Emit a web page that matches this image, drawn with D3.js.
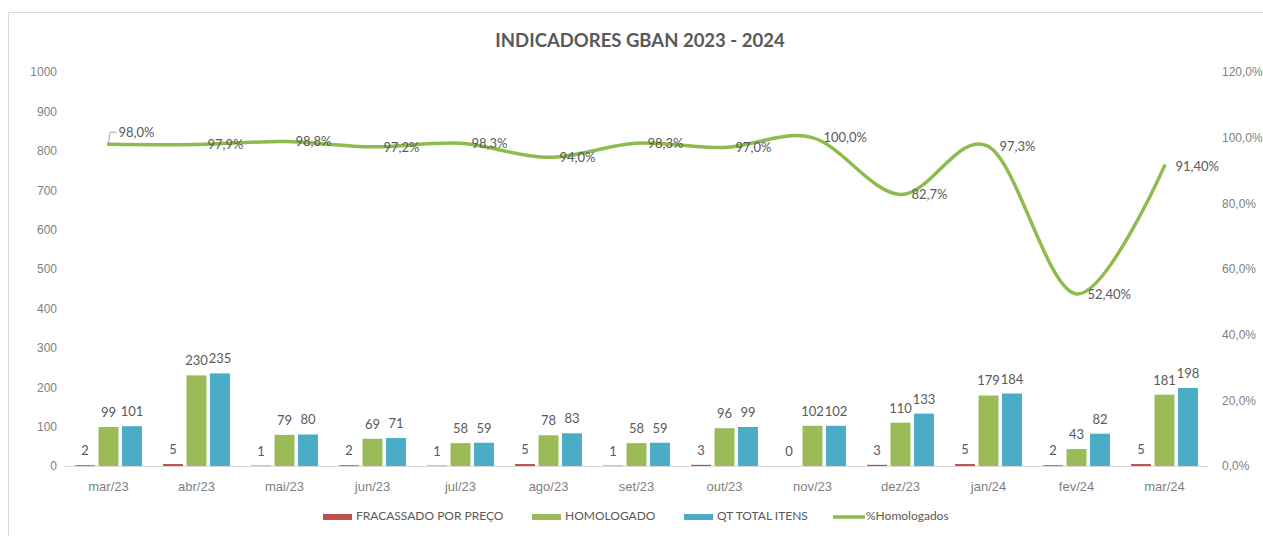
<!DOCTYPE html>
<html lang="pt">
<head>
    <meta charset="UTF-8">
    <title>INDICADORES GBAN 2023 - 2024</title>
    <style>
        body {
            margin: 0;
            background: #fff;
            font-family: Lato, "Open Sans", Arial, sans-serif;
        }
        .tick text {
            fill: #7f7f7f;
            font-size: 12px;
        }
        .lbl {
            fill: #595959;
            font-size: 13px;
        }
    </style>
</head>
<body>
    <div id="chart"></div>

    <script src="https://d3js.org/d3.v7.min.js"></script>
    <script>
        var months = ["mar/23", "abr/23", "mai/23", "jun/23", "jul/23", "ago/23", "set/23",
                      "out/23", "nov/23", "dez/23", "jan/24", "fev/24", "mar/24"];
        var fracassado = [2, 5, 1, 2, 1, 5, 1, 3, 0, 3, 5, 2, 5];
        var homologado = [99, 230, 79, 69, 58, 78, 58, 96, 102, 110, 179, 43, 181];
        var qtTotal = [101, 235, 80, 71, 59, 83, 59, 99, 102, 133, 184, 82, 198];
        var pctHomologados = [98.0, 97.9, 98.8, 97.2, 98.3, 94.0, 98.3, 97.0, 100.0, 82.7, 97.3, 52.4, 91.4];
        var pctLabels = ["98,0%", "97,9%", "98,8%", "97,2%", "98,3%", "94,0%", "98,3%",
                         "97,0%", "100,0%", "82,7%", "97,3%", "52,40%", "91,40%"];
        var leftTicks = [0, 100, 200, 300, 400, 500, 600, 700, 800, 900, 1000];
        var rightTicks = [0, 20, 40, 60, 80, 100, 120];
        var seriesNames = ["FRACASSADO POR PREÇO", "HOMOLOGADO", "QT TOTAL ITENS"];
        var lineName = "%Homologados";

        var width = 1263,
            height = 536;

        var colors = ["#C0504D", "#9BBB59", "#4BACC6"];
        var lineColor = "#8DBC4C";

        var svg = d3.select("#chart").append("svg")
            .attr("width", width)
            .attr("height", height);

        // chart frame
        svg.append("rect")
            .attr("x", 8.5).attr("y", 12.5)
            .attr("width", 1300).attr("height", 600)
            .attr("fill", "#fff")
            .attr("stroke", "#d9d9d9");

        svg.append("text")
            .attr("x", 640).attr("y", 47)
            .attr("text-anchor", "middle")
            .attr("fill", "#595959")
            .style("font-size", "18.5px")
            .style("font-weight", "bold")
            .text("INDICADORES GBAN 2023 - 2024");

        var x0 = d3.scaleBand()
            .domain(months)
            .range([64.5, 1208.5]);

        var x1 = d3.scaleBand()
            .domain(d3.range(3))
            .range([0, x0.bandwidth()])
            .paddingInner(0.15)
            .paddingOuter(0.45);

        var y = d3.scaleLinear().domain([0, 1000]).range([466, 72]);
        var y2 = d3.scaleLinear().domain([0, 120]).range([466, 72]);

        // axes
        var leftAxis = svg.append("g")
            .attr("transform", "translate(57,0)")
            .call(d3.axisLeft(y).tickValues(leftTicks).tickSize(0).tickPadding(0)
                .tickFormat(d3.format("d")));
        leftAxis.select(".domain").remove();

        var rightAxis = svg.append("g")
            .attr("transform", "translate(1222,0)")
            .call(d3.axisRight(y2).tickValues(rightTicks).tickSize(0).tickPadding(0)
                .tickFormat(function(d) { return d3.format(".1f")(d).replace(".", ",") + "%"; }));
        rightAxis.select(".domain").remove();

        svg.append("line")
            .attr("x1", 64.5).attr("x2", 1208.5)
            .attr("y1", 466.5).attr("y2", 466.5)
            .attr("stroke", "#d9d9d9");

        var bottom = svg.append("g")
            .attr("transform", "translate(0,466)")
            .call(d3.axisBottom(x0).tickSize(0).tickPadding(16));
        bottom.select(".domain").remove();
        bottom.selectAll("text").style("font-size", "13px").attr("fill", "#595959");

        // bars
        var series = [fracassado, homologado, qtTotal];
        var groups = svg.append("g").selectAll("g")
            .data(months)
            .enter().append("g")
            .attr("transform", function(d) { return "translate(" + x0(d) + ",0)"; });

        groups.selectAll("rect")
            .data(function(d, i) { return series.map(function(s, k) { return {k: k, v: s[i]}; }); })
            .enter().append("rect")
            .attr("x", function(d) { return x1(d.k); })
            .attr("width", x1.bandwidth())
            .attr("y", function(d) { return y(d.v); })
            .attr("height", function(d) { return y(0) - y(d.v); })
            .attr("fill", function(d) { return colors[d.k]; });

        groups.selectAll("text")
            .data(function(d, i) { return series.map(function(s, k) { return {k: k, v: s[i]}; }); })
            .enter().append("text")
            .attr("class", "lbl")
            .attr("text-anchor", "middle")
            .attr("x", function(d) { return x1(d.k) + x1.bandwidth() / 2; })
            .attr("y", function(d) { return y(d.v) - 10; })
            .text(function(d) { return d.v; });

        // %Homologados line
        var cx = function(i) { return x0(months[i]) + x0.bandwidth() / 2; };
        var line = d3.line()
            .x(function(d, i) { return cx(i); })
            .y(function(d) { return y2(d); })
            .curve(d3.curveCardinal.tension(0));

        svg.append("path")
            .datum(pctHomologados)
            .attr("fill", "none")
            .attr("stroke", lineColor)
            .attr("stroke-width", 3.5)
            .attr("stroke-linecap", "round")
            .attr("d", line);

        svg.append("g").selectAll("text")
            .data(pctHomologados)
            .enter().append("text")
            .attr("class", "lbl")
            .attr("dominant-baseline", "middle")
            .attr("x", function(d, i) { return i === 0 ? cx(i) + 10 : cx(i) + 11; })
            .attr("y", function(d, i) { return i === 0 ? y2(d) - 11 : y2(d) + 1.5; })
            .text(function(d, i) { return pctLabels[i]; });

        // leader line for the first label
        svg.append("path")
            .attr("fill", "none")
            .attr("stroke", "#a6a6a6")
            .attr("d", "M" + (cx(0)) + "," + (y2(pctHomologados[0]) - 1) +
                       "L" + (cx(0) + 1.5) + "," + (y2(pctHomologados[0]) - 12) +
                       "L" + (cx(0) + 8) + "," + (y2(pctHomologados[0]) - 12));

        // legend
        var legendX = [323, 532, 684];
        var legend = svg.append("g");
        seriesNames.forEach(function(name, k) {
            legend.append("rect")
                .attr("x", legendX[k]).attr("y", 514)
                .attr("width", 29).attr("height", 6)
                .attr("fill", colors[k]);
            legend.append("text")
                .attr("x", legendX[k] + 33).attr("y", 517)
                .attr("dominant-baseline", "middle")
                .attr("fill", "#595959")
                .style("font-size", "12px")
                .text(name);
        });
        legend.append("line")
            .attr("x1", 833).attr("x2", 865)
            .attr("y1", 517).attr("y2", 517)
            .attr("stroke", lineColor)
            .attr("stroke-width", 3.5);
        legend.append("text")
            .attr("x", 866).attr("y", 517)
            .attr("dominant-baseline", "middle")
            .attr("fill", "#595959")
            .style("font-size", "12px")
            .text(lineName);
    </script>
</body>
</html>
